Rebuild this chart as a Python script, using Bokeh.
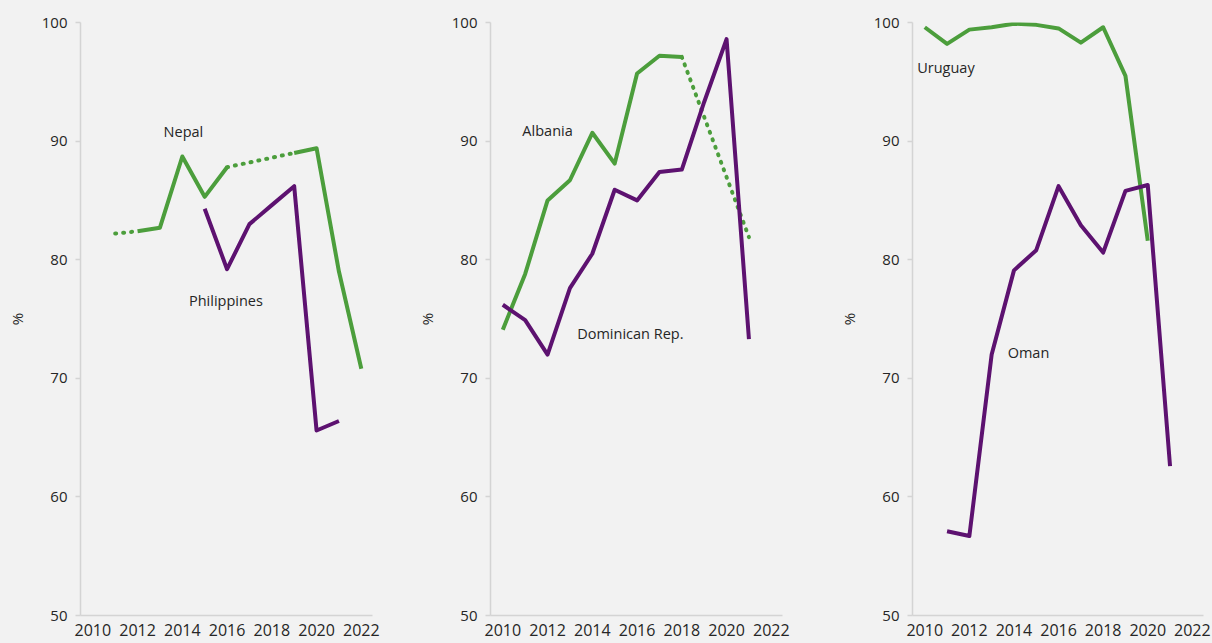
from bokeh.plotting import figure
from bokeh.layouts import row
from bokeh.models import Range1d, FixedTicker, Label
from bokeh.embed import file_html
from bokeh.resources import INLINE

years = list(range(2010, 2023))
x_ticks = [2010, 2012, 2014, 2016, 2018, 2020, 2022]
y_ticks = [50, 60, 70, 80, 90, 100]

# Panel 1
nepal = [None, 82.2, 82.4, 82.7, 88.7, 85.3, 87.8, None, None, 89.0, 89.4, 79.0, 70.8]
philippines = [None, None, None, None, None, 84.3, 79.2, 83.0, 84.6, 86.2, 65.6, 66.4, None]
nepal_dotted = [(2011, 2012), (2016, 2019)]
philippines_dotted = []
# Panel 2
albania = [74.1, 78.8, 85.0, 86.7, 90.7, 88.1, 95.7, 97.2, 97.1, None, None, 81.9, None]
dominican = [76.2, 74.9, 72.0, 77.6, 80.5, 85.9, 85.0, 87.4, 87.6, 93.3, 98.6, 73.3, None]
albania_dotted = [(2018, 2021)]
dominican_dotted = []
# Panel 3
uruguay = [99.6, 98.2, 99.4, 99.6, 99.9, 99.8, 99.5, 98.3, 99.6, 95.5, 81.6, None, None]
oman = [None, 57.1, 56.7, 72.0, 79.1, 80.8, 86.2, 82.9, 80.6, 85.8, 86.3, 62.6, None]
uruguay_dotted = []
oman_dotted = []

GREEN = "#4C9E3C"
PURPLE = "#5D1270"
BG = "#F2F2F2"
AXIS = "#D4D4D4"
TXT = "#262626"
FONT = "Open Sans"


def runs(vals, dotted):
    dset = set(dotted)
    xs, ys = [], []
    cx, cy = [], []
    for i in range(len(years) - 1):
        a, b = vals[i], vals[i + 1]
        ok = a is not None and b is not None and (years[i], years[i + 1]) not in dset
        if ok:
            if not cx:
                cx, cy = [years[i]], [a]
            cx.append(years[i + 1])
            cy.append(b)
        else:
            if cx:
                xs.append(cx)
                ys.append(cy)
            cx, cy = [], []
    if cx:
        xs.append(cx)
        ys.append(cy)
    return xs, ys


def draw(p, vals, dotted, color):
    xs, ys = runs(vals, dotted)
    if xs:
        p.multi_line(xs, ys, line_color=color, line_width=4, line_join="round", line_cap="butt")
    for (y0, y1) in dotted:
        v0 = vals[years.index(y0)]
        v1 = vals[years.index(y1)]
        p.line([y0, y1], [v0, v1], line_color=color, line_width=4, line_cap="round",
               line_dash="1 7")


def make_fig(width, border_right):
    p = figure(width=width, height=643, output_backend="svg", toolbar_location=None,
               x_range=Range1d(2009.45, 2022.5), y_range=Range1d(50, 100),
               min_border_left=80, min_border_right=border_right,
               min_border_top=22, min_border_bottom=28)
    p.background_fill_color = BG
    p.border_fill_color = BG
    p.outline_line_color = None
    p.grid.visible = False
    p.xaxis.ticker = FixedTicker(ticks=x_ticks)
    p.yaxis.ticker = FixedTicker(ticks=y_ticks)
    p.xaxis.major_tick_line_color = None
    p.xaxis.major_tick_out = 0
    p.xaxis.major_tick_in = 0
    p.axis.minor_tick_line_color = None
    p.yaxis.major_tick_out = 5
    p.yaxis.major_tick_in = 0
    p.yaxis.major_tick_line_color = AXIS
    p.yaxis.major_tick_line_width = 1.5
    p.axis.axis_line_color = AXIS
    p.axis.axis_line_width = 1.5
    p.axis.major_label_text_font = FONT
    p.axis.major_label_text_color = TXT
    p.yaxis.major_label_text_font_size = "15px"
    p.xaxis.major_label_text_font_size = "16px"
    p.yaxis.major_label_standoff = 8
    p.xaxis.major_label_standoff = 8
    p.yaxis.axis_label = "%"
    p.yaxis.axis_label_text_font = FONT
    p.yaxis.axis_label_text_font_size = "15px"
    p.yaxis.axis_label_text_font_style = "normal"
    p.yaxis.axis_label_text_color = TXT
    p.yaxis.axis_label_standoff = 12
    return p


def add_label(p, x, y, text):
    p.add_layout(Label(x=x, y=y, text=text, text_align="center", text_baseline="middle",
                       text_font=FONT, text_font_size="14.5px", text_color=TXT))


p1 = make_fig(410, 38)
draw(p1, nepal, nepal_dotted, GREEN)
draw(p1, philippines, philippines_dotted, PURPLE)
add_label(p1, 2014.05, 90.8, "Nepal")
add_label(p1, 2015.95, 76.6, "Philippines")

p2 = make_fig(422, 50)
draw(p2, albania, albania_dotted, GREEN)
draw(p2, dominican, dominican_dotted, PURPLE)
add_label(p2, 2012.0, 90.9, "Albania")
add_label(p2, 2015.7, 73.8, "Dominican Rep.")

p3 = make_fig(380, 9)
draw(p3, uruguay, uruguay_dotted, GREEN)
draw(p3, oman, oman_dotted, PURPLE)
add_label(p3, 2010.95, 96.2, "Uruguay")
add_label(p3, 2014.65, 72.2, "Oman")

layout = row(p1, p2, p3)
html = file_html(layout, INLINE)
html = html.replace("<body>", '<body style="background:#F2F2F2">')
open("out.html", "w").write(html)
